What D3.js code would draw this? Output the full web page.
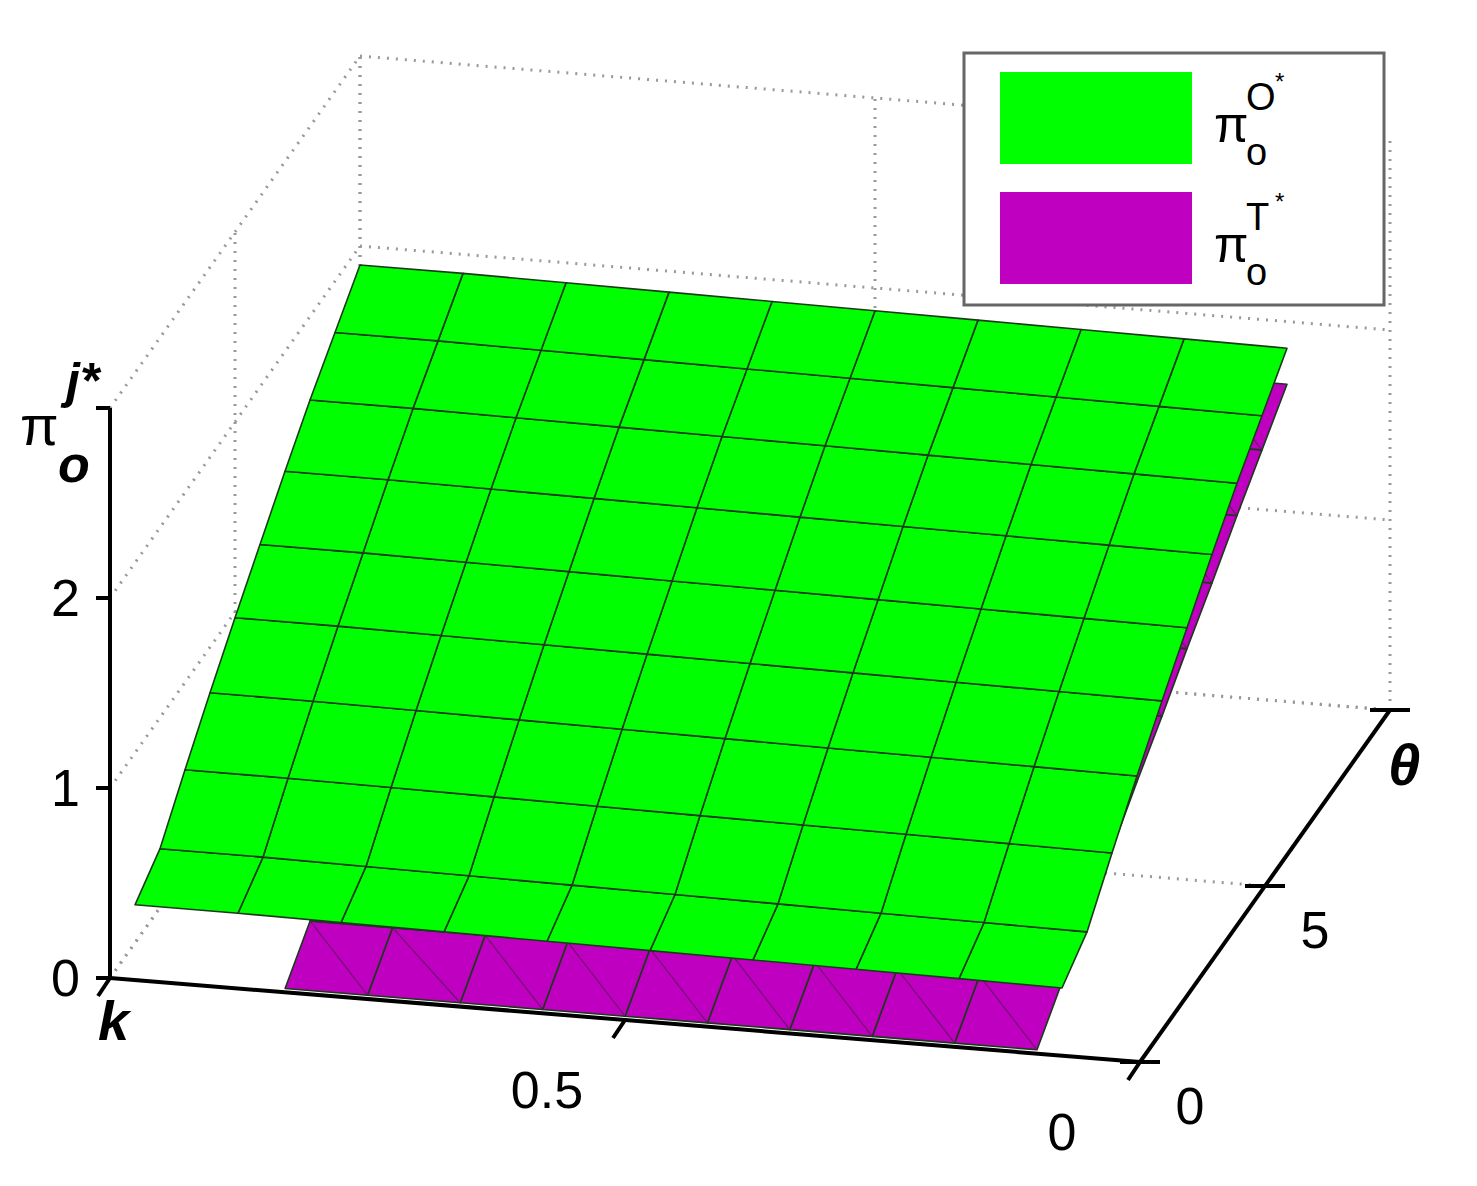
<!DOCTYPE html>
<html><head><meta charset="utf-8">
<script src="https://cdn.jsdelivr.net/npm/d3@7"></script>
<style>body{margin:0;background:#fff}text{font-family:"Liberation Sans",Arial,sans-serif}</style>
</head><body><svg id="c" width="1477" height="1186"></svg>
<script>
// ---- data ----
const kGreen = [0.1,0.2,0.3,0.4,0.5,0.6,0.7,0.8,0.9,1.0];
const thetaGreen = [1,2,3,4,5,6,7,8,9,10];
const greenRowZ = [0.2,0.31,0.54,0.76,0.97,1.17,1.37,1.56,1.73,1.9];
const greenColOffset = [-0.04,-0.035,-0.03,-0.025,-0.02,-0.015,-0.01,-0.005,0,0];
const kPurple = [0.1,0.18,0.26,0.34,0.42,0.5,0.58,0.66,0.75,0.83];
const thetaPurple = [0,1,2,3,4,5,6,7,8,9,10];
const purpleRowZ = [0.02,0.19,0.36,0.52,0.69,0.85,1.02,1.18,1.35,1.51,1.67];
const kTicks = [0,0.5,1];
const kTickLabels = ["0","0.5",""];
const thetaTicks = [0,5,10];
const thetaTickLabels = ["0","5",""];
const zTicks = [0,1,2,3];
const zTickLabels = ["0","1","2",""];
const seriesNames = [["O*","#00ff00"],["T*","#c000c0"]];

// ---- projection via scales ----
const kx = d3.scaleLinear([0,1],[0,-1030]), ky = d3.scaleLinear([0,1],[0,-84]);
const tx = d3.scaleLinear([0,10],[0,250]), ty = d3.scaleLinear([0,10],[0,-352]);
const zy = d3.scaleLinear([0,3],[0,-570]);
const O = [1140,1062];
const P = (k,t,z)=>[O[0]+kx(k)+tx(t), O[1]+ky(k)+ty(t)+zy(z)];
const svg = d3.select("#c");
const line = d3.line();

// ---- dotted grid on back panes ----
const g = svg.append("g").attr("stroke","#999").attr("stroke-width",3).attr("stroke-dasharray","2,7").attr("fill","none");
const seg=(a,b)=>g.append("path").attr("d",line([a,b]));
zTicks.forEach(z=>{ seg(P(1,0,z),P(1,10,z)); seg(P(1,10,z),P(0,10,z)); });
thetaTicks.forEach(t=>{ seg(P(1,t,0),P(1,t,3)); seg(P(1,t,0),P(0,t,0)); });
kTicks.forEach(k=>{ seg(P(k,10,0),P(k,10,3)); seg(P(k,0,0),P(k,10,0)); });

// ---- surfaces ----
function surface(ks,ts,zf,fill,diag){
  const s = svg.append("g");
  for(let i=0;i<ts.length-1;i++) for(let j=0;j<ks.length-1;j++){
    const a=P(ks[j],ts[i],zf(i,j)), b=P(ks[j+1],ts[i],zf(i,j+1)),
          c=P(ks[j+1],ts[i+1],zf(i+1,j+1)), d=P(ks[j],ts[i+1],zf(i+1,j));
    s.append("path").attr("d",line([a,b,c,d])+"Z").attr("fill",fill)
     .attr("stroke","#1a3a1a").attr("stroke-width",1.6).attr("stroke-linejoin","round");
    if(diag) s.append("path").attr("d",line([a,c])).attr("stroke","#701070").attr("stroke-width",1.2);
  }
}
surface(kPurple,thetaPurple,(i,j)=>purpleRowZ[i],"#c000c0",true);
surface(kGreen,thetaGreen,(i,j)=>greenRowZ[i]+greenColOffset[j],"#00ff00",false);

// ---- axes ----
const ax = svg.append("g").attr("stroke","#000").attr("stroke-width",4).attr("fill","none");
ax.append("path").attr("d",line([P(1,0,0),P(0,0,0)]));
ax.append("path").attr("d",line([P(0,0,0),P(0,10,0)]));
ax.append("path").attr("d",line([P(1,0,0),P(1,0,3)]));
zTicks.forEach(z=>{const p=P(1,0,z); ax.append("path").attr("d",line([[p[0]-14,p[1]],p]));});
thetaTicks.forEach(t=>{const p=P(0,t,0); ax.append("path").attr("d",line([[p[0]-20,p[1]],[p[0]+20,p[1]]]));});
kTicks.forEach(k=>{const p=P(k,0,0); ax.append("path").attr("d",line([p,[p[0]-12,p[1]+18]]));});

const lab = svg.append("g").attr("font-size",52).attr("fill","#000");
zTicks.forEach((z,i)=>{const p=P(1,0,z); lab.append("text").attr("x",p[0]-30).attr("y",p[1]+18).attr("text-anchor","end").text(zTickLabels[i]);});
kTicks.forEach((k,i)=>{const p=P(k,0,0); lab.append("text").attr("x",p[0]-78).attr("y",p[1]+88).attr("text-anchor","middle").text(kTickLabels[i]);});
thetaTicks.forEach((t,i)=>{const p=P(0,t,0); lab.append("text").attr("x",p[0]+50).attr("y",p[1]+62).attr("text-anchor","middle").text(thetaTickLabels[i]);});

// axis labels
lab.append("text").attr("x",98).attr("y",1040).attr("font-weight","bold").attr("font-style","italic").attr("font-size",56).text("k");
lab.append("text").attr("x",1388).attr("y",785).attr("font-weight","bold").attr("font-style","italic").attr("font-size",58).text("θ");
lab.append("text").attr("x",20).attr("y",445).attr("font-size",56).text("π");
lab.append("text").attr("x",58).attr("y",482).attr("font-size",52).attr("font-weight","bold").attr("font-style","italic").text("o");
lab.append("text").attr("x",66).attr("y",398).attr("font-size",50).attr("font-weight","bold").attr("font-style","italic").text("j*");

// ---- legend ----
const lg = svg.append("g");
lg.append("rect").attr("x",964).attr("y",53).attr("width",420).attr("height",252).attr("fill","#fff").attr("stroke","#666").attr("stroke-width",3);
seriesNames.forEach(([sup,col],i)=>{
  const y0 = 72 + i*120;
  lg.append("rect").attr("x",1000).attr("y",y0).attr("width",192).attr("height",92).attr("fill",col);
  lg.append("text").attr("x",1214).attr("y",y0+70).attr("font-size",50).text("π");
  lg.append("text").attr("x",1246).attr("y",y0+93).attr("font-size",38).text("o");
  lg.append("text").attr("x",1246).attr("y",y0+38).attr("font-size",38).text(sup[0]);
  lg.append("text").attr("x",1275).attr("y",y0+18).attr("font-size",24).text("*");
});
</script></body></html>
